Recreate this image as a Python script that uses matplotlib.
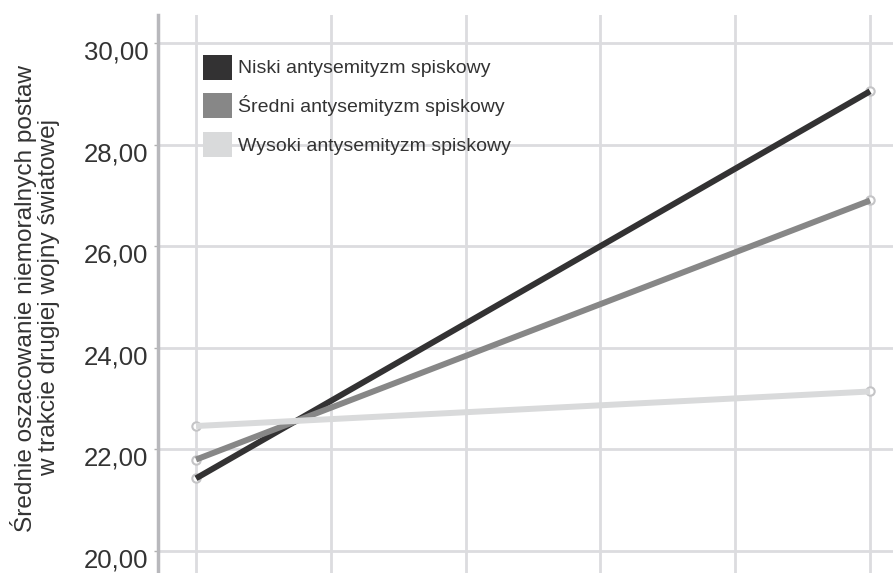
import numpy as np
import matplotlib.pyplot as plt
import matplotlib.transforms as mtransforms
from matplotlib.patches import Patch

plt.rcParams['font.family'] = ['Liberation Sans', 'DejaVu Sans']

# data
grupy = ['Niski antysemityzm spiskowy', 'Średni antysemityzm spiskowy', 'Wysoki antysemityzm spiskowy']
x_pos = [0, 5]
niski = [21.43, 29.05]
sredni = [21.80, 26.90]
wysoki = [22.46, 23.14]
kolory = ['#333233', '#878787', '#d9dadb']
y_ticks = [20, 22, 24, 26, 28, 30]
y_labels = ['20,00', '22,00', '24,00', '26,00', '28,00', '30,00']

fig = plt.figure(figsize=(8.93, 5.73), dpi=100)
ax = fig.add_axes([158/893, 0.0, 1 - 158/893, 1 - 15/573])

for ys, c in zip([niski, sredni, wysoki], kolory):
	ax.plot(x_pos, ys, color='none', marker='o', markersize=6, markerfacecolor='white',
		markeredgecolor='#c4c4c6', markeredgewidth=1.5, zorder=3, clip_on=False)
	ax.plot(x_pos, ys, color=c, lw=4.3, solid_capstyle='butt', zorder=4)

ax.set_xlim(-0.282, 5.17)
ax.set_ylim(20 - 22/50.8, 30 + 28/50.8)

ax.set_xticks(range(0, 6))
ax.set_xticklabels([])
ax.tick_params(axis='x', length=0)
ax.set_yticks(y_ticks)
ax.set_yticklabels(y_labels, fontsize=18.5, color='#333333')
ax.tick_params(axis='y', length=3, width=1, color='#b0b0b0', pad=4)
off = mtransforms.ScaledTranslation(0, -7/100, fig.dpi_scale_trans)
for lab in ax.get_yticklabels():
	lab.set_transform(lab.get_transform() + off)

ax.grid(True, color='#dcdcdf', lw=2)
ax.set_axisbelow(True)
for s in ['top', 'right', 'bottom']:
	ax.spines[s].set_visible(False)
ax.spines['left'].set_color('#b8b8bc')
ax.spines['left'].set_linewidth(2.5)

handles = [Patch(facecolor=c, edgecolor='none') for c in kolory]
ax.legend(handles, grupy, loc='upper left', bbox_to_anchor=(0.05, 0.943), frameon=False,
	fontsize=14, handlelength=1.5, handleheight=1.6, handletextpad=0.3, labelspacing=0.7,
	borderaxespad=0, labelcolor='#333333')

fig.text(35/893, 1 - 298/573, 'Średnie oszacowanie niemoralnych postaw\nw trakcie drugiej wojny światowej',
	rotation=90, ha='center', va='center', multialignment='center', fontsize=17.6, color='#333333',
	linespacing=1.1)

fig.savefig('out.png', dpi=100)
